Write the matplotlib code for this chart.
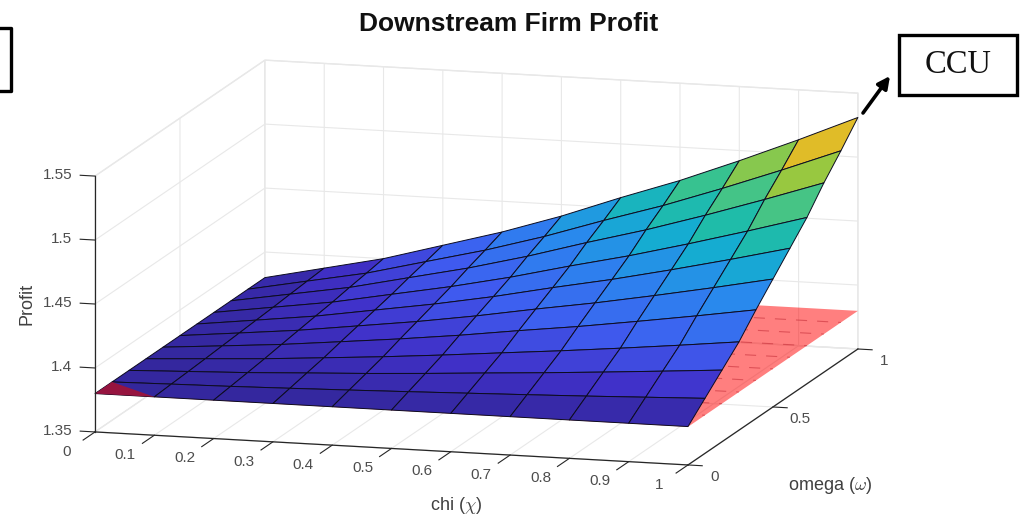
import numpy as np
import matplotlib
matplotlib.use('Agg')
import matplotlib.pyplot as plt
from matplotlib.colors import LinearSegmentedColormap
from matplotlib.patches import FancyArrowPatch, Rectangle
from mpl_toolkits.mplot3d import proj3d
from mpl_toolkits.mplot3d.art3d import Poly3DCollection

plt.rcParams['font.family'] = ['Liberation Sans', 'DejaVu Sans']
plt.rcParams['mathtext.fontset'] = 'cm'

# values
chi = [0, 0.1, 0.2, 0.3, 0.4, 0.5, 0.6, 0.7, 0.8, 0.9, 1]
omega = [0, 0.1, 0.2, 0.3, 0.4, 0.5, 0.6, 0.7, 0.8, 0.9, 1]
# one row per chi, columns run along omega
profit = [
    [1.3800, 1.3800, 1.3800, 1.3800, 1.3800, 1.3800, 1.3800, 1.3800, 1.3800, 1.3800, 1.3800],
    [1.3800, 1.3809, 1.3817, 1.3826, 1.3836, 1.3846, 1.3856, 1.3866, 1.3878, 1.3889, 1.3900],
    [1.3800, 1.3817, 1.3834, 1.3852, 1.3873, 1.3893, 1.3913, 1.3932, 1.3956, 1.3977, 1.4000],
    [1.3800, 1.3828, 1.3857, 1.3885, 1.3920, 1.3953, 1.3986, 1.4019, 1.4058, 1.4093, 1.4130],
    [1.3800, 1.3840, 1.3879, 1.3919, 1.3968, 1.4013, 1.4059, 1.4105, 1.4159, 1.4208, 1.4260],
    [1.3800, 1.3853, 1.3905, 1.3958, 1.4022, 1.4083, 1.4143, 1.4204, 1.4277, 1.4341, 1.4410],
    [1.3800, 1.3867, 1.3934, 1.4001, 1.4084, 1.4162, 1.4239, 1.4317, 1.4410, 1.4492, 1.4580],
    [1.3800, 1.3881, 1.3962, 1.4043, 1.4142, 1.4236, 1.4329, 1.4423, 1.4535, 1.4634, 1.4740],
    [1.3800, 1.3896, 1.3993, 1.4089, 1.4208, 1.4319, 1.4430, 1.4542, 1.4675, 1.4794, 1.4920],
    [1.3800, 1.3913, 1.4026, 1.4138, 1.4277, 1.4407, 1.4537, 1.4668, 1.4824, 1.4963, 1.5110],
    [1.3800, 1.3930, 1.4060, 1.4190, 1.4350, 1.4500, 1.4650, 1.4800, 1.4980, 1.5140, 1.5310],
]
plane_level = 1.3798
plane_dash_omega = [0.1, 0.2, 0.3, 0.4, 0.5, 0.6, 0.7, 0.8, 0.9]
# small patch near the origin where the plane pokes through
red_chi = [0, 0, 0.1]
red_omega = [0, 0.1, 0]

chi_ticks = [0, 0.1, 0.2, 0.3, 0.4, 0.5, 0.6, 0.7, 0.8, 0.9, 1]
chi_ticklabels = ['0', '0.1', '0.2', '0.3', '0.4', '0.5', '0.6', '0.7', '0.8', '0.9', '1']
omega_ticks = [0, 0.5, 1]
omega_ticklabels = ['0', '0.5', '1']
z_ticks = [1.35, 1.4, 1.45, 1.5, 1.55]
z_ticklabels = ['1.35', '1.4', '1.45', '1.5', '1.55']

parula = LinearSegmentedColormap.from_list('parula_like', [
    (0.00, '#33279c'), (0.10, '#4030c8'), (0.22, '#3f5cf0'), (0.38, '#2a88ee'),
    (0.50, '#14aed0'), (0.60, '#22bfa0'), (0.70, '#52c67c'), (0.78, '#98c840'),
    (0.88, '#e0bb28'), (1.00, '#f8e818'),
])

X, Y = np.meshgrid(chi, omega)
Z = np.array(profit).T
cells = (Z[:-1, :-1] + Z[1:, :-1] + Z[:-1, 1:] + Z[1:, 1:]) / 4
cell_colors = parula((cells - Z.min()) / (Z.max() - Z.min()))

fig = plt.figure(figsize=(10.29, 5.2), dpi=100)
ax = fig.add_axes([22 / 1029, -197 / 520, 885 / 1029, 885 / 520], projection='3d')
ax.patch.set_alpha(0)
ax.set_proj_type('ortho')
ax.view_init(elev=11.24, azim=-74.06)
ax.set_box_aspect((617, 619, 261))
ax.computed_zorder = False

# red plane, below the surface
plane_x, plane_y = np.meshgrid([0, 1], [0, 1])
ax.plot_surface(plane_x, plane_y, np.full((2, 2), plane_level), color=(1, 0, 0, 0.5),
                shade=False, linewidth=0, zorder=2)
for w in plane_dash_omega:
    ax.plot([0, 1], [w, w], [plane_level, plane_level], color='#c8323c', lw=0.8,
            dashes=(10, 9), alpha=0.6, zorder=2.5)

ax.plot_surface(X, Y, Z, facecolors=cell_colors, shade=False, rstride=1, cstride=1,
                edgecolor='#0c0c20', linewidth=0.7, zorder=3)

red_tri = Poly3DCollection([list(zip(red_chi, red_omega, [profit[0][0]] * 3))],
                           facecolor='#96143f', edgecolor='none', zorder=4)
ax.add_collection3d(red_tri)

# box axes are drawn by hand, MATLAB puts them on other edges than mplot3d
axis_col = '#262626'
tick_txt = '#4d4d4d'
ax.plot([0, 1], [0, 0], [1.35, 1.35], color=axis_col, lw=0.9, zorder=5)
ax.plot([1, 1], [0, 1], [1.35, 1.35], color=axis_col, lw=0.9, zorder=5)
ax.plot([0, 0], [0, 0], [1.35, 1.55], color=axis_col, lw=0.9, zorder=5)
for c in chi_ticks:
    ax.plot([c, c], [0, -0.07], [1.35, 1.35], color=axis_col, lw=0.8, zorder=5)
for w in omega_ticks:
    ax.plot([1, 1.024], [w, w], [1.35, 1.35], color=axis_col, lw=0.8, zorder=5)
for z in z_ticks:
    ax.plot([0, -0.025], [0, 0], [z, z], color=axis_col, lw=0.8, zorder=5)

ax.set_xticks(chi_ticks)
ax.set_yticks(omega_ticks)
ax.set_zticks(z_ticks)
ax.set_xlim(0, 1)
ax.set_ylim(0, 1)
ax.set_zlim(1.35, 1.55)
ax.tick_params(axis='both', colors=(0, 0, 0, 0))
for axis in (ax.xaxis, ax.yaxis, ax.zaxis):
    axis.set_ticklabels([])
    axis.label.set_visible(False)
    axis.offsetText.set_visible(False)
    axis.set_pane_color((1, 1, 1, 1))
    axis.pane.set_edgecolor('#e8e8e8')
    axis.line.set_color((0, 0, 0, 0))
    axis._axinfo['grid']['color'] = '#e8e8e8'
    axis._axinfo['grid']['linewidth'] = 0.8

fig.canvas.draw()  # needed so the projection below is final


def tick_text(x, y, z, label, ha='center'):
    # project by hand and write a plain figure text
    px, py, _ = proj3d.proj_transform(x, y, z, ax.get_proj())
    dx, dy = ax.transData.transform((px, py))
    fig.text(dx / fig.bbox.width, dy / fig.bbox.height, label, color=tick_txt, fontsize=11,
             ha=ha, va='center')


for c, lab in zip(chi_ticks, chi_ticklabels):
    tick_text(c, -0.17, 1.35, lab)
for w, lab in zip(omega_ticks, omega_ticklabels):
    tick_text(1.045, w, 1.3414, lab)
for z, lab in zip(z_ticks, z_ticklabels):
    tick_text(-0.038, 0, z, lab, ha='right')

# overlay in pixel coordinates for the titles and the pasted-on boxes
over = fig.add_axes([0, 0, 1, 1])
over.set_xlim(0, 1029)
over.set_ylim(520, 0)
over.set_xticks([])
over.set_yticks([])
over.axis('off')
over.patch.set_alpha(0)
over.text(509, 24, 'Downstream Firm Profit', fontsize=19, fontweight='bold', ha='center', va='center', color='#111111')
over.text(456, 505, r'chi ($\chi$)', fontsize=13, color='#404040', ha='center', va='center')
over.text(830, 485, r'omega ($\omega$)', fontsize=13, color='#404040', ha='center', va='center')
over.text(27, 304, 'Profit', fontsize=13, color='#404040', rotation=90, ha='center', va='center')

over.add_patch(Rectangle((899, 35), 118, 60, fill=False, ec='black', lw=2.4))
over.text(958, 65, 'CCU', family='Liberation Serif', fontsize=23.5, ha='center', va='center', color='#111111')
over.plot([-5, 11, 11, -5], [28, 28, 91, 91], color='black', lw=2.4)
over.add_patch(FancyArrowPatch((863, 113), (890, 76), arrowstyle='-|>', mutation_scale=18,
                               lw=2.6, color='black', shrinkA=0, shrinkB=0))

fig.savefig('out.png', dpi=100)
